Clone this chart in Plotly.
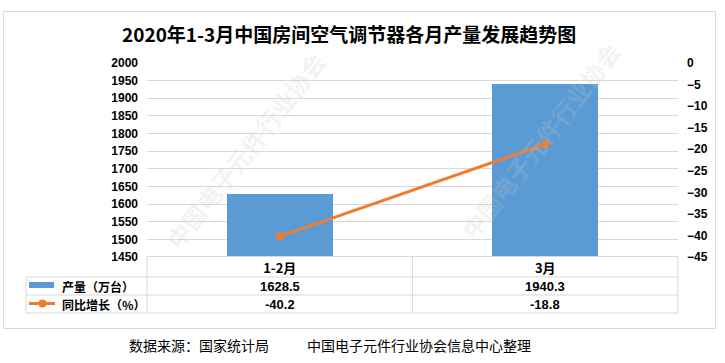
import plotly.graph_objects as go

categories = ["1-2月", "3月"]
output_vals = [1628.5, 1940.3]          # 产量（万台）
growth_vals = [-40.2, -18.8]            # 同比增长（%）
output_labels = ["1628.5", "1940.3"]
growth_labels = ["-40.2", "-18.8"]
series_names = ["产量（万台）", "同比增长（%）"]
title_text = "2020年1-3月中国房间空气调节器各月产量发展趋势图"
source_left = "数据来源：国家统计局"
source_right = "中国电子元件行业协会信息中心整理"

W, H = 725, 363
L, R, T, B = 147, 678, 63, 257
PW, PH = R - L, B - T


def px(x):
    return (x - L) / PW


def py(y):
    return (B - y) / PH


BLUE = "#5b9bd5"
ORANGE = "#ed7d31"
GRID = "#d9d9d9"
CJK = "Noto Sans CJK SC"

fig = go.Figure()
fig.add_trace(go.Bar(x=categories, y=output_vals, name=series_names[0],
                     marker=dict(color=BLUE, line=dict(width=0)), width=0.4,
                     yaxis="y"))
fig.add_trace(go.Scatter(x=categories, y=growth_vals, name=series_names[1],
                         mode="lines+markers", yaxis="y2",
                         line=dict(color=ORANGE, width=3),
                         marker=dict(color=ORANGE, size=8)))

shapes = []
ann = []

# outer frame
shapes.append(dict(type="rect", xref="paper", yref="paper",
                   x0=px(3.5), x1=px(715.5), y0=py(328.5), y1=py(11.5),
                   line=dict(color=GRID, width=1), fillcolor="rgba(0,0,0,0)", layer="above"))

# data table lines
tbl_left, tbl_mid = 26, (L + R) / 2
row_lines = [256.5, 277, 295, 313]
for i, yv in enumerate(row_lines):
    x0 = L if i == 0 else tbl_left
    shapes.append(dict(type="line", xref="paper", yref="paper",
                       x0=px(x0), x1=px(R), y0=py(yv), y1=py(yv),
                       line=dict(color=GRID, width=1)))
for xv, ytop in [(tbl_left, 277), (L, 256.5), (tbl_mid, 256.5), (R, 256.5)]:
    shapes.append(dict(type="line", xref="paper", yref="paper",
                       x0=px(xv), x1=px(xv), y0=py(ytop), y1=py(313),
                       line=dict(color=GRID, width=1)))

# legend keys in table
shapes.append(dict(type="rect", xref="paper", yref="paper",
                   x0=px(29), x1=px(54), y0=py(288), y1=py(282),
                   line=dict(width=0), fillcolor=BLUE))
shapes.append(dict(type="line", xref="paper", yref="paper",
                   x0=px(29), x1=px(55), y0=py(303.5), y1=py(303.5),
                   line=dict(color=ORANGE, width=3)))
shapes.append(dict(type="circle", xref="paper", yref="paper",
                   x0=px(38.5), x1=px(46.5), y0=py(307.5), y1=py(299.5),
                   line=dict(width=0), fillcolor=ORANGE))

ann.append(dict(text="<b>" + series_names[0] + "</b>", xref="paper", yref="paper",
                x=px(60), y=py(286), xanchor="left", yanchor="middle", showarrow=False,
                font=dict(family=CJK, size=12, color="#000")))
ann.append(dict(text="<b>" + series_names[1] + "</b>", xref="paper", yref="paper",
                x=px(60), y=py(304), xanchor="left", yanchor="middle", showarrow=False,
                font=dict(family=CJK, size=12, color="#000")))
for c, a, b in zip(categories, output_labels, growth_labels):
    ann.append(dict(text="<b>" + a + "</b>", xref="x", yref="paper", x=c, y=py(286),
                    xanchor="center", yanchor="middle", showarrow=False,
                    font=dict(family="Liberation Sans Narrow, Liberation Sans", size=13, color="#000")))
    ann.append(dict(text="<b>" + b + "</b>", xref="x", yref="paper", x=c, y=py(304),
                    xanchor="center", yanchor="middle", showarrow=False,
                    font=dict(family="Liberation Sans Narrow, Liberation Sans", size=13, color="#000")))

# title
ann.append(dict(text="<b>" + title_text + "</b>", xref="paper", yref="paper",
                x=px(348.5), y=py(33.5), xanchor="center", yanchor="middle", showarrow=False,
                font=dict(family=CJK, size=19, color="#000")))
# source
ann.append(dict(text=source_left, xref="paper", yref="paper", x=px(127), y=py(345),
                xanchor="left", yanchor="middle", showarrow=False,
                font=dict(family=CJK, size=14, color="#000")))
ann.append(dict(text=source_right, xref="paper", yref="paper", x=px(305), y=py(345),
                xanchor="left", yanchor="middle", showarrow=False,
                font=dict(family=CJK, size=14, color="#000")))

# faint watermarks
for (wx, wy) in [(245, 150), (540, 140)]:
    ann.append(dict(text="<b>中国电子元件行业协会</b>", xref="paper", yref="paper",
                    x=px(wx), y=py(wy), xanchor="center", yanchor="middle", showarrow=False,
                    textangle=-52, font=dict(family=CJK, size=24, color="rgba(200,200,200,0.22)")))

tick_font = dict(family="Liberation Sans", size=12, color="#000")
fig.update_layout(
    width=W, height=H,
    margin=dict(l=L, r=W - R, t=T, b=H - B, pad=0),
    paper_bgcolor="white", plot_bgcolor="white",
    showlegend=False,
    bargap=0,
    xaxis=dict(type="category", range=[-0.5, 1.5], showgrid=False, showline=False,
               ticks="", tickfont=dict(family=CJK, size=13, color="#000"),
               tickprefix="<b>", ticksuffix="</b>", ticklabelstandoff=2, zeroline=False),
    yaxis=dict(range=[1450, 2000], dtick=50, showgrid=True, gridcolor=GRID, gridwidth=1,
               showline=False, zeroline=False, ticks="", tickfont=tick_font,
               tickprefix="<b>", ticksuffix="</b>", ticklabelstandoff=8),
    yaxis2=dict(range=[-45, 0], dtick=5, overlaying="y", side="right", showgrid=False,
                showline=False, zeroline=False, ticks="", tickfont=tick_font,
                tickprefix="<b>", ticksuffix="</b>", ticklabelstandoff=8),
    shapes=shapes,
    annotations=ann,
)

fig.write_html("out.html", config={"displayModeBar": False},
               post_script="document.body.style.margin='0';document.body.style.padding='0';")
